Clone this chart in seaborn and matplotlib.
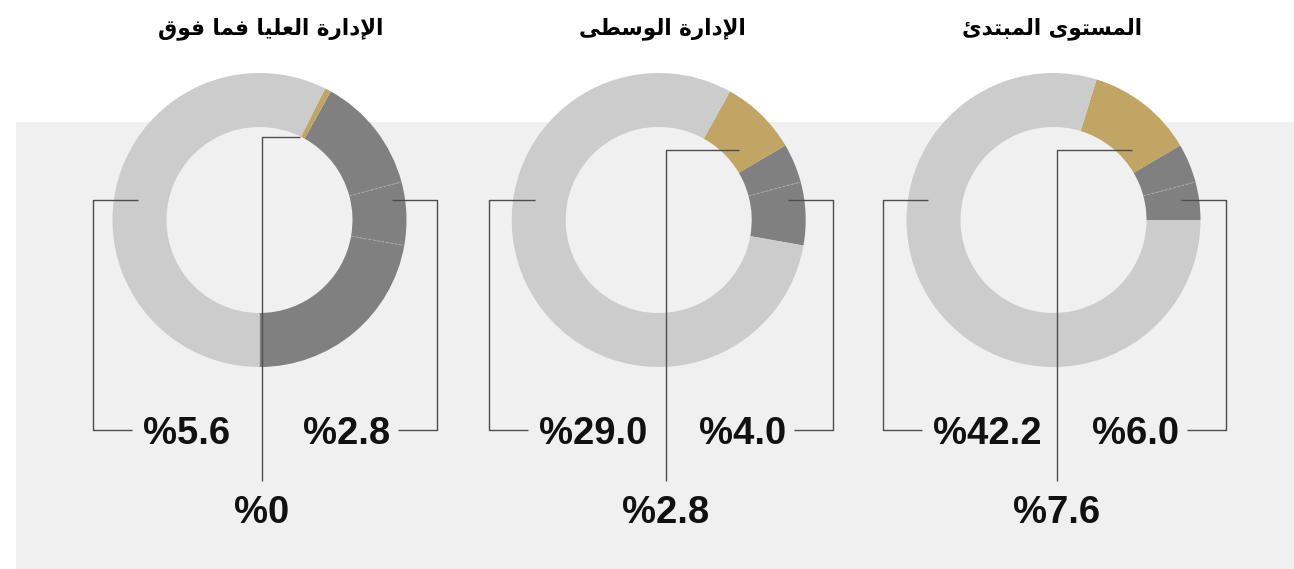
import numpy as np
import matplotlib.pyplot as plt
import seaborn as sns
from matplotlib.patches import Rectangle

# ---- data (left to right) ----
titles = ["الإدارة العليا فما فوق", "الإدارة الوسطى", "المستوى المبتدئ"]
left_vals = [5.6, 29.0, 42.2]
right_vals = [2.8, 4.0, 6.0]
bottom_vals = [0, 2.8, 7.6]

# ring segments in degrees, counterclockwise from start
seg_start = [-90, -10, 0]
seg_sizes = [
    [80, 25, 46, 2.5, 206.5],
    [25, 15.5, 30.5, 289],
    [15, 15.5, 42.5, 287],
]
seg_kind = [
    ["dark", "dark", "dark", "gold", "light"],
    ["dark", "dark", "gold", "light"],
    ["dark", "dark", "gold", "light"],
]

colors = {"dark": "#808080", "gold": "#c0a565", "light": "#cccccc"}

# ---- layout (pixels, image coords) ----
W, H = 1294, 569
cx = [259.5, 658.7, 1053.5]
cy = 220
R_out, R_in = 147, 93
title_x = [271, 662.5, 1052.5]
left_start_x = [137.5, 534.5, 928]
left_outer_x = [93, 489, 883]
right_start_x = [391.5, 787.5, 1181]
right_outer_x = [437, 833, 1226]
bot_x0 = [262, 666, 1057]
bot_x1 = [300, 739, 1132]
bot_y = [137, 150, 150]

# ---- minimal arabic shaping (matplotlib has no RTL / joining) ----
FORMS = {
    "ا": ("\uFE8D", "\uFE8E", None, None),
    "إ": ("\uFE87", "\uFE88", None, None),
    "ب": ("\uFE8F", "\uFE90", "\uFE91", "\uFE92"),
    "ة": ("\uFE93", "\uFE94", None, None),
    "ت": ("\uFE95", "\uFE96", "\uFE97", "\uFE98"),
    "د": ("\uFEA9", "\uFEAA", None, None),
    "ر": ("\uFEAD", "\uFEAE", None, None),
    "س": ("\uFEB1", "\uFEB2", "\uFEB3", "\uFEB4"),
    "ط": ("\uFEC1", "\uFEC2", "\uFEC3", "\uFEC4"),
    "ع": ("\uFEC9", "\uFECA", "\uFECB", "\uFECC"),
    "ف": ("\uFED1", "\uFED2", "\uFED3", "\uFED4"),
    "ق": ("\uFED5", "\uFED6", "\uFED7", "\uFED8"),
    "ل": ("\uFEDD", "\uFEDE", "\uFEDF", "\uFEE0"),
    "م": ("\uFEE1", "\uFEE2", "\uFEE3", "\uFEE4"),
    "و": ("\uFEED", "\uFEEE", None, None),
    "ى": ("\uFEEF", "\uFEF0", None, None),
    "ي": ("\uFEF1", "\uFEF2", "\uFEF3", "\uFEF4"),
    "ئ": ("\uFE89", "\uFE8A", "\uFE8B", "\uFE8C"),
    "لا": ("\uFEFB", "\uFEFC", None, None),
    "لإ": ("\uFEF9", "\uFEFA", None, None),
}


def shape(text):
    words = []
    for word in text.split(" "):
        toks = []
        i = 0
        while i < len(word):
            if word[i] == "ل" and i + 1 < len(word) and word[i + 1] in "اإ":
                toks.append(word[i:i + 2])
                i += 2
            else:
                toks.append(word[i])
                i += 1
        out = ""
        for j, t in enumerate(toks):
            prev = j > 0 and FORMS[toks[j - 1]][2] is not None
            nxt = FORMS[t][2] is not None and j < len(toks) - 1
            k = 3 if (prev and nxt) else 1 if prev else 2 if nxt else 0
            out += FORMS[t][k]
        words.append(out)
    return " ".join(words)[::-1]


def pct(v):
    return "%" + (f"{v:.1f}" if v else "0")


sns.set_theme(style="white")
plt.rcParams["font.family"] = ["Liberation Sans", "DejaVu Sans"]

fig = plt.figure(figsize=(W / 100, H / 100), dpi=100)
ax = fig.add_axes([0, 0, 1, 1])


def Y(y):
    return H - y


ax.add_patch(Rectangle((16, 0), W - 16, Y(122), color="#f0f0f0", lw=0, zorder=0))

line_kw = dict(color="#4d4d4d", lw=1.0, solid_capstyle="butt", zorder=3)
txt_kw = dict(fontsize=27.5, fontweight="bold", color="#111111", zorder=4)

for i in range(3):
    wedges, _ = ax.pie(
        seg_sizes[i], startangle=seg_start[i], counterclock=True,
        colors=[colors[k] for k in seg_kind[i]],
        radius=R_out, center=(cx[i], Y(cy)),
        wedgeprops=dict(width=R_out - R_in, linewidth=0),
    )
    # faint dashed separators between neighbouring dark pieces
    for k in range(len(wedges) - 1):
        if seg_kind[i][k] == "dark" and seg_kind[i][k + 1] == "dark":
            a = np.deg2rad(wedges[k].theta2)
            ax.plot([cx[i] + R_in * np.cos(a), cx[i] + R_out * np.cos(a)],
                    [Y(cy) + R_in * np.sin(a), Y(cy) + R_out * np.sin(a)],
                    color="#a8a8a8", lw=0.8, ls=(0, (2, 2)), zorder=2)

    # left bracket
    lo = left_outer_x[i]
    ax.plot([left_start_x[i], lo, lo, lo + 39],
            [Y(200), Y(200), Y(429.5), Y(429.5)], **line_kw)
    ax.text(lo + 50, Y(444), pct(left_vals[i]), ha="left", va="baseline", **txt_kw)

    # right bracket
    ro = right_outer_x[i]
    ax.plot([right_start_x[i], ro, ro, ro - 39],
            [Y(200), Y(200), Y(429.5), Y(429.5)], **line_kw)
    ax.text(ro - 47, Y(444), pct(right_vals[i]), ha="right", va="baseline", **txt_kw)

    # bottom leader
    ax.plot([bot_x1[i], bot_x0[i], bot_x0[i]],
            [Y(bot_y[i]), Y(bot_y[i]), Y(481)], **line_kw)
    ax.text(bot_x0[i], Y(523), pct(bottom_vals[i]), ha="center", va="baseline", **txt_kw)

    ax.text(title_x[i], Y(34), shape(titles[i]), ha="center", va="baseline",
            fontsize=15.5, fontweight="bold", family=["DejaVu Sans"], color="#000000")

ax.set_xlim(0, W)
ax.set_ylim(0, H)
ax.set_aspect("equal")
ax.axis("off")
fig.savefig("out.png", dpi=100, facecolor="white")
